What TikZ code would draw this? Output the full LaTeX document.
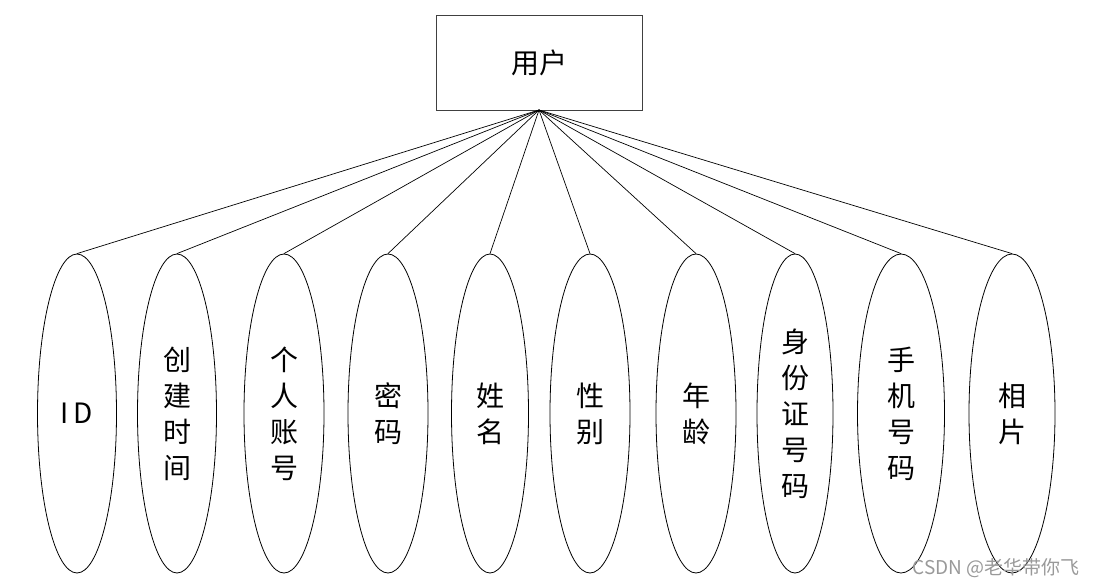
\documentclass[tikz,border=0pt]{standalone}
\usepackage{fontspec}
\setmainfont{Noto Sans CJK SC}
\newfontfamily\cjk{Noto Sans CJK SC}
\usetikzlibrary{shapes.geometric}
\tikzset{
  entity/.style={draw=black!75, line width=0.9pt, minimum width=206pt, minimum height=95pt, inner sep=0pt, font=\cjk\fontsize{28pt}{32pt}\selectfont},
  attr/.style={draw=black, line width=0.8pt, ellipse, inner sep=0pt, minimum height=319pt, align=center, font=\cjk\fontsize{28pt}{36pt}\selectfont},
  link/.style={draw=black, line width=0.7pt},
  watermark/.style={text=black!40, font=\cjk\fontsize{19pt}{21pt}\selectfont, inner sep=0pt}
}
\begin{document}
\begin{tikzpicture}[x=1pt,y=-1pt]
\useasboundingbox (0,0) rectangle (1095,588);
\node[entity] (user) at (539,62.5) {用户};
\coordinate (apex) at (539,110);
\node[attr, minimum width=79pt] (a1) at (77,413.5) {I\,D};
\node[attr, minimum width=79pt] (a2) at (177,413.5) {创\\建\\时\\间};
\node[attr, minimum width=80pt] (a3) at (284,413.5) {个\\人\\账\\号};
\node[attr, minimum width=80pt] (a4) at (388,413.5) {密\\码};
\node[attr, minimum width=77pt] (a5) at (490,413.5) {姓\\名};
\node[attr, minimum width=80pt] (a6) at (590,413.5) {性\\别};
\node[attr, minimum width=80pt] (a7) at (696,413.5) {年\\龄};
\node[attr, minimum width=76pt] (a8) at (795,413.5) {身\\份\\证\\号\\码};
\node[attr, minimum width=87pt] (a9) at (901,413.5) {手\\机\\号\\码};
\node[attr, minimum width=86pt] (a10) at (1012,413.5) {相\\片};
\foreach \n in {a1,a2,a3,a4,a5,a6,a7,a8,a9,a10}
  \draw[link] (apex) -- (\n.north);
\node[watermark, anchor=east] (wm) at (1080,568) {CSDN @老华带你飞};
\end{tikzpicture}
\end{document}
